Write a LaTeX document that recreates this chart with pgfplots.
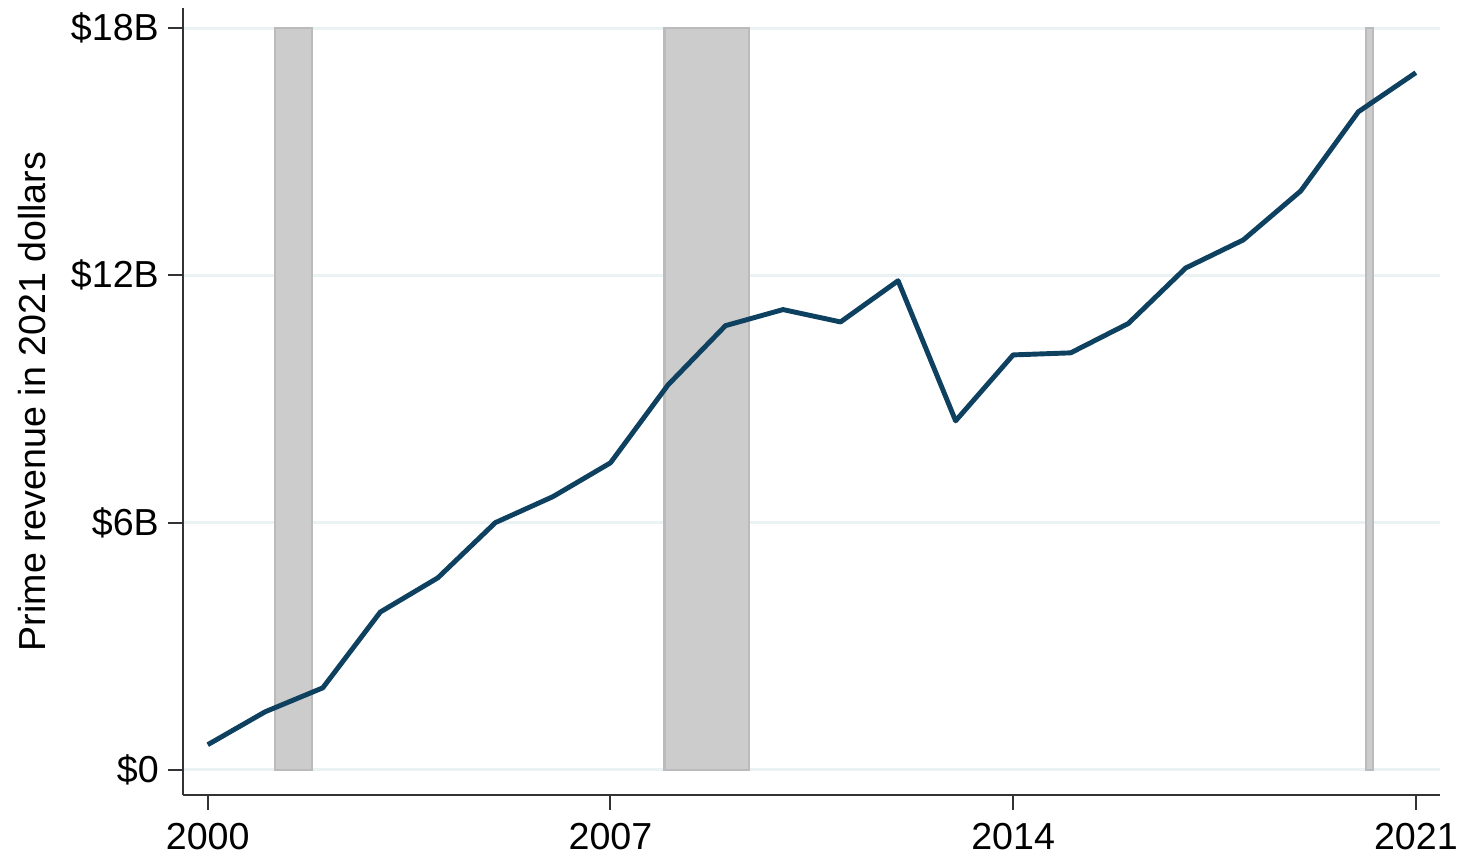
\documentclass[border=0pt]{standalone}
\usepackage{fontspec}
\setmainfont{Liberation Sans}
\usepackage{pgfplots}
\pgfplotsset{compat=1.18}

\definecolor{linenavy}{RGB}{14,64,96}
\definecolor{gridc}{RGB}{234,242,243}
\definecolor{recfill}{RGB}{204,204,204}
\definecolor{recdraw}{RGB}{187,187,187}

\begin{document}
\fontsize{10.7}{12.8}\selectfont
\begin{tikzpicture}
\begin{axis}[
    scale only axis,
    width=12.57cm,
    height=7.87cm,
    xmin=1999.57, xmax=2021.42,
    ymin=-0.61, ymax=18.49,
    axis lines*=left,
    axis line style={line width=0.6pt, black!80},
    xtick={2000,2007,2014,2021},
    xticklabels={2000,2007,2014,2021},
    ytick={0,6,12,18},
    yticklabels={\$0,\$6B,\$12B,\$18B},
    tick align=outside,
    major tick length=1.5mm,
    tick style={line width=0.6pt, black!80},
    ymajorgrids,
    grid style={gridc, line width=0.8pt},
    yticklabel style={xshift=0.4mm},
    clip=false,
]
% recession shading
\addplot[fill=recfill, draw=recdraw, line width=0.6pt] coordinates {
    (2001.17,0) (2001.17,18) (2001.81,18) (2001.81,0)} -- cycle;
\addplot[fill=recfill, draw=recdraw, line width=0.6pt] coordinates {
    (2007.94,0) (2007.94,18) (2009.41,18) (2009.41,0)} -- cycle;
\addplot[fill=recfill, draw=recdraw, line width=0.6pt] coordinates {
    (2020.13,0) (2020.13,18) (2020.26,18) (2020.26,0)} -- cycle;

% Prime revenue, billions of 2021 dollars
\addplot[linenavy, line width=1.4pt, line join=round] coordinates {
    (2000, 0.61)
    (2001, 1.41)
    (2002, 1.99)
    (2003, 3.83)
    (2004, 4.66)
    (2005, 6.00)
    (2006, 6.63)
    (2007, 7.45)
    (2008, 9.34)
    (2009, 10.78)
    (2010, 11.17)
    (2011, 10.87)
    (2012, 11.87)
    (2013, 8.47)
    (2014, 10.07)
    (2015, 10.12)
    (2016, 10.83)
    (2017, 12.18)
    (2018, 12.86)
    (2019, 14.05)
    (2020, 15.97)
    (2021, 16.92)
};
\end{axis}
\node[rotate=90, anchor=south] at ([xshift=-12.35mm]current axis.west)
    {Prime revenue in 2021 dollars};
% frame the page like the original's margins
\pgfresetboundingbox
\path ([shift={(-18.3mm,-6.7mm)}]current axis.south west)
    rectangle ([shift={(2mm,0.8mm)}]current axis.north east);
\end{tikzpicture}
\end{document}
